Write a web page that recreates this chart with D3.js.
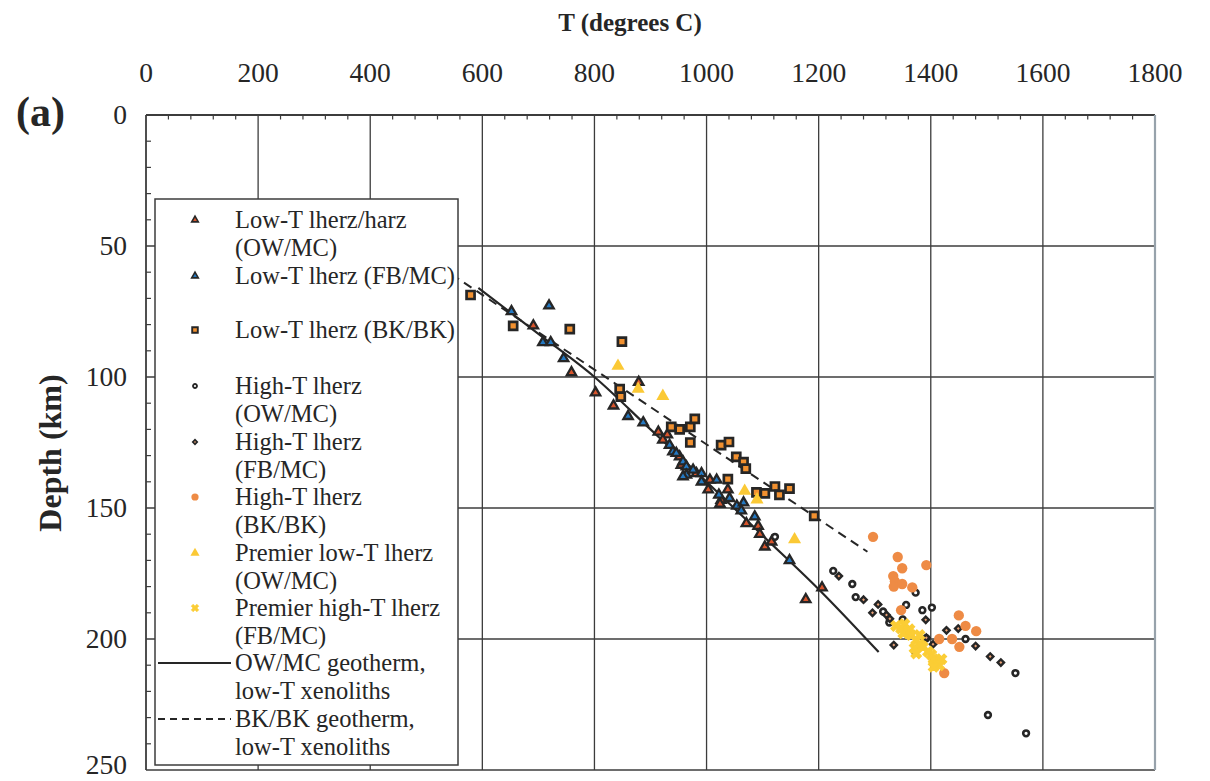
<!DOCTYPE html>
<html>
<head>
<meta charset="utf-8">
<script src="https://cdn.jsdelivr.net/npm/d3@7"></script>
<style>
  html, body { margin: 0; padding: 0; background: #fff; }
  svg { display: block; }
  text { font-family: "Liberation Serif", "Times New Roman", serif; fill: #262626; }
</style>
</head>
<body>
<svg id="chart" width="1210" height="781"></svg>
<script>
// ---- data: temperature (°C), depth (km) ----
const xTicks = [0, 200, 400, 600, 800, 1000, 1200, 1400, 1600, 1800];
const yTicks = [0, 50, 100, 150, 200, 250];

const lowOW = [
  [691, 80.4], [759, 98.3], [802, 106], [834, 111], [879, 102], [914, 121], [930, 122],
  [922, 124], [952, 130.4], [955, 133.6], [982, 136.8], [1006, 139.3], [1003, 143],
  [1026, 147], [1038, 143], [1024, 148.5], [1071, 155.9], [1092, 156.9], [1095, 160],
  [1104, 164.8], [1116, 162.9], [1206, 180.4], [1177, 184.9]
];
const lowFB = [
  [652, 75], [719, 72.8], [708, 86.8], [722, 86.8], [745, 92.9], [860, 115], [887, 117.4],
  [934, 126], [940, 128.5], [946, 129.1], [958, 132.3], [964, 134.2], [964, 137.4],
  [958, 138], [976, 135.5], [991, 136.8], [991, 140], [1018, 139.3], [1022, 145],
  [1041, 146.3], [1054, 149.2], [1066, 148], [1062, 151], [1086, 153.3], [1148, 170]
];
const lowBK = [
  [579, 68.7], [655, 80.5], [756, 81.7], [849, 86.5], [845, 104.6], [847, 107.5],
  [937, 119], [952, 120], [971, 119], [979, 116], [971, 125], [1026, 126], [1040, 124.8],
  [1053, 130.5], [1066, 132.5], [1070, 135], [1038, 139], [1089, 144], [1104, 144.4],
  [1122, 141.8], [1130, 145], [1148, 142.6], [1192, 153]
];
const highOW = [
  [1122, 161], [1226, 174], [1260, 179], [1266, 184], [1373, 182.3], [1356, 187],
  [1385, 189], [1402, 188], [1315, 189.5], [1326, 193.7], [1350, 192.5], [1392, 199.7],
  [1372, 205], [1462, 200], [1551, 213], [1502, 229], [1570, 236]
];
const highFB = [
  [1236, 176], [1280, 185], [1306, 186.8], [1296, 190], [1321, 190.8], [1327, 192.3],
  [1334, 202.3], [1391, 192.7], [1392, 199.5], [1404, 202], [1428, 196.7], [1449, 196],
  [1480, 202.7], [1506, 206.7], [1525, 209]
];
const highBK = [
  [1297, 161], [1341, 168.7], [1349, 173], [1392, 171.8], [1333, 176], [1336, 178],
  [1334, 180], [1349, 179], [1367, 180.3], [1347, 189], [1450, 191], [1462, 195],
  [1481, 197], [1415, 200], [1438, 200], [1451, 203], [1424, 213]
];
const premierLow = [
  [842, 95.8], [878, 104.6], [922, 107.3], [1068, 143.5], [1090, 146.8], [1157, 162]
];
const premierHigh = [
  [1338, 195], [1347, 196], [1353, 194.3], [1362, 196.3], [1359, 197.2], [1351, 197.8],
  [1365, 198.5], [1374, 200.4], [1380, 198.5], [1380, 202], [1371, 203.5], [1374, 205.5],
  [1386, 203], [1395, 204.8], [1401, 206], [1405, 207.7], [1410, 208.6], [1415, 210],
  [1405, 210.6], [1419, 207.7]
];
// geotherms fitted to the low-T xenoliths
const geothermOW = [
  [593, 66], [700, 83.5], [800, 100], [900, 120], [1000, 140], [1100, 160.5],
  [1200, 181], [1307, 205]
];
const geothermBK = [[545, 60.8], [1287, 166.7]];

const legendLabels = [
  ["Low-T lherz/harz", "(OW/MC)"],
  ["Low-T lherz (FB/MC)"],
  ["Low-T lherz (BK/BK)"],
  ["High-T lherz", "(OW/MC)"],
  ["High-T lherz", "(FB/MC)"],
  ["High-T lherz", "(BK/BK)"],
  ["Premier low-T lherz", "(OW/MC)"],
  ["Premier high-T lherz", "(FB/MC)"],
  ["OW/MC geotherm,", "low-T xenoliths"],
  ["BK/BK geotherm,", "low-T xenoliths"]
];

// ---- drawing ----
const svg = d3.select("#chart");
const x = d3.scaleLinear().domain([0, 1800]).range([146, 1155]);
const y = d3.scaleLinear().domain([0, 250]).range([115, 770]);
const ink = "#262626";
const gridInk = "#3c3c3c";

// grid
svg.append("g").selectAll("line").data(xTicks.slice(1, -1)).join("line")
  .attr("x1", d => x(d)).attr("x2", d => x(d))
  .attr("y1", y(0)).attr("y2", y(250))
  .attr("stroke", gridInk).attr("stroke-width", 1.3);
svg.append("g").selectAll("line").data(yTicks.slice(1, -1)).join("line")
  .attr("x1", x(0)).attr("x2", x(1800))
  .attr("y1", d => y(d)).attr("y2", d => y(d))
  .attr("stroke", gridInk).attr("stroke-width", 1.3);

// minor ticks (inward)
svg.append("g").selectAll("line").data(d3.range(40, 1800, 40).filter(v => v % 200 !== 0)).join("line")
  .attr("x1", d => x(d)).attr("x2", d => x(d))
  .attr("y1", y(0)).attr("y2", y(0) + 4.5)
  .attr("stroke", gridInk).attr("stroke-width", 1.2);
svg.append("g").selectAll("line").data(d3.range(10, 250, 10).filter(v => v % 50 !== 0)).join("line")
  .attr("x1", x(0)).attr("x2", x(0) + 5)
  .attr("y1", d => y(d)).attr("y2", d => y(d))
  .attr("stroke", gridInk).attr("stroke-width", 1.2);

// frame
svg.append("line").attr("x1", x(0)).attr("x2", x(1800)).attr("y1", y(0)).attr("y2", y(0))
  .attr("stroke", gridInk).attr("stroke-width", 1.8);
svg.append("line").attr("x1", x(0)).attr("x2", x(0)).attr("y1", y(0)).attr("y2", y(250))
  .attr("stroke", gridInk).attr("stroke-width", 1.8);
svg.append("line").attr("x1", x(0)).attr("x2", x(1800)).attr("y1", y(250)).attr("y2", y(250))
  .attr("stroke", gridInk).attr("stroke-width", 1.5);
svg.append("line").attr("x1", x(1800)).attr("x2", x(1800)).attr("y1", y(0)).attr("y2", y(250))
  .attr("stroke", "#97a2ab").attr("stroke-width", 2.2);

// tick labels
svg.append("g").selectAll("text").data(xTicks).join("text")
  .attr("x", d => x(d)).attr("y", 82)
  .attr("text-anchor", "middle").attr("font-size", 27.5)
  .text(d => d);
// the lowest label is nudged up so it stays inside the canvas
svg.append("g").selectAll("text").data(yTicks).join("text")
  .attr("x", 127).attr("y", d => Math.min(y(d) + 9, 774))
  .attr("text-anchor", "end").attr("font-size", 27.5)
  .text(d => d);

// titles
svg.append("text").attr("x", 630).attr("y", 31).attr("text-anchor", "middle")
  .attr("font-size", 25).attr("font-weight", "bold").text("T (degrees C)");
svg.append("text").attr("x", 16).attr("y", 126)
  .attr("font-size", 42).attr("font-weight", "bold").text("(a)");
svg.append("text").attr("transform", "translate(61,453) rotate(-90)")
  .attr("text-anchor", "middle").attr("font-size", 32).attr("font-weight", "bold")
  .text("Depth (km)");

// geotherms
const line = d3.line().x(d => x(d[0])).y(d => y(d[1])).curve(d3.curveMonotoneX);
svg.append("path").datum(geothermBK).attr("d", line)
  .attr("fill", "none").attr("stroke", ink).attr("stroke-width", 2).attr("stroke-dasharray", "9,6");
svg.append("path").datum(geothermOW).attr("d", line)
  .attr("fill", "none").attr("stroke", ink).attr("stroke-width", 2.2);

// series styles
const sym = (type, size) => d3.symbol().type(type).size(size)();
const styles = [
  { data: lowOW, path: sym(d3.symbolTriangle, 38), fill: "#d8552c", stroke: ink, sw: 2.3, rot: 0 },
  { data: lowFB, path: sym(d3.symbolTriangle, 38), fill: "#2479c2", stroke: ink, sw: 2.3, rot: 0 },
  { data: lowBK, path: sym(d3.symbolSquare, 64), fill: "#f1902f", stroke: ink, sw: 2.7, rot: 0 },
  { data: highOW, path: sym(d3.symbolCircle, 26), fill: "#ffffff", stroke: ink, sw: 2.6, rot: 0 },
  { data: highFB, path: sym(d3.symbolSquare, 20), fill: "#eaa277", stroke: ink, sw: 2.4, rot: 45 },
  { data: highBK, path: sym(d3.symbolCircle, 84), fill: "#ee8b45", stroke: "none", sw: 0, rot: 0 },
  { data: premierLow, path: sym(d3.symbolTriangle, 74), fill: "#fbc935", stroke: "none", sw: 0, rot: 0 },
  { data: premierHigh, path: sym(d3.symbolCross, 70), fill: "#fbcd35", stroke: "#fbcd35", sw: 1, rot: 45 }
];

styles.forEach(s => {
  svg.append("g").selectAll("path").data(s.data).join("path")
    .attr("d", s.path)
    .attr("transform", d => `translate(${x(d[0])},${y(d[1])}) rotate(${s.rot})`)
    .attr("fill", s.fill).attr("stroke", s.stroke).attr("stroke-width", s.sw)
    .attr("stroke-linejoin", "miter");
});

// legend
const lg = svg.append("g");
lg.append("rect").attr("x", 155).attr("y", 199).attr("width", 303).attr("height", 566)
  .attr("fill", "#fff").attr("stroke", "#3c3c3c").attr("stroke-width", 1.5);

const legendRows = [220, 276, 330, 386, 442, 497, 553, 608, 663, 719];
const lineGap = 28;
legendLabels.forEach((lines, i) => {
  const cy = legendRows[i];
  lines.forEach((t, j) => {
    lg.append("text").attr("x", 235).attr("y", cy + 8 + j * lineGap)
      .attr("font-size", 24.5).attr("fill", "#303030").text(t);
  });
  if (i < 8) {
    const s = styles[i];
    lg.append("path").attr("d", s.path)
      .attr("transform", `translate(195,${cy}) rotate(${s.rot}) scale(0.7)`)
      .attr("fill", s.fill).attr("stroke", s.stroke).attr("stroke-width", s.sw);
  } else {
    lg.append("line").attr("x1", 158).attr("x2", 231).attr("y1", cy).attr("y2", cy)
      .attr("stroke", ink).attr("stroke-width", 2.2)
      .attr("stroke-dasharray", i === 9 ? "7,5" : null);
  }
});
</script>
</body>
</html>
